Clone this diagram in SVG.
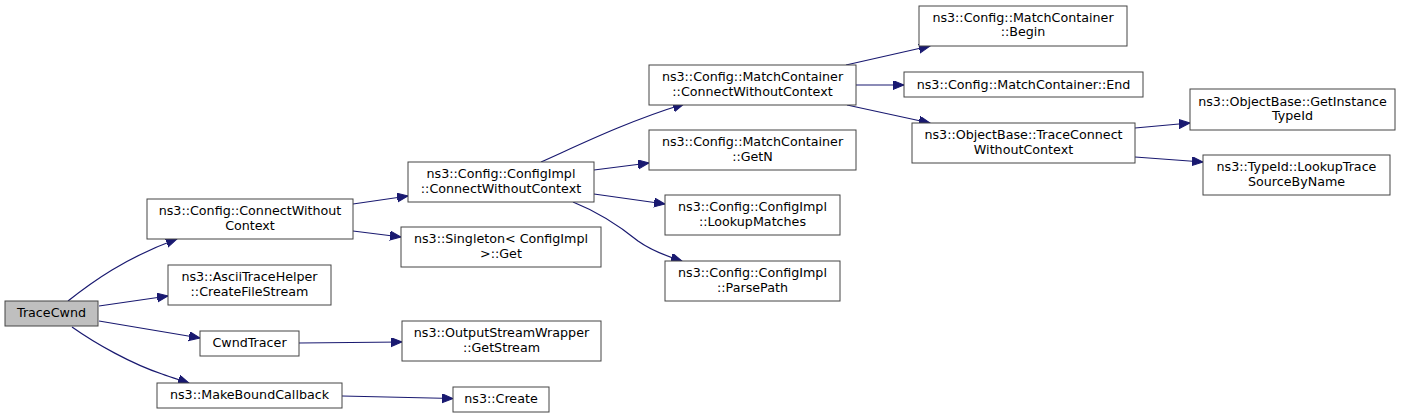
<svg xmlns="http://www.w3.org/2000/svg" width="1409" height="418" viewBox="0 0 1409 418">
<style>
.n rect{fill:#ffffff;stroke:#444444;stroke-width:1}
.n.root rect{fill:#bfbfbf}
.n text{font-family:"DejaVu Sans",sans-serif;font-size:12.7px;fill:#000000;text-anchor:middle}
.e path{fill:none;stroke:#191970;stroke-width:1.2}
</style>
<defs>
<marker id="ah" markerUnits="userSpaceOnUse" markerWidth="12" markerHeight="10" refX="11" refY="4.5" orient="auto">
<path d="M0,0 L11,4.5 L0,9 z" fill="#191970" stroke="#191970" stroke-width="1"/>
</marker>
</defs>
<rect width="1409" height="418" fill="#ffffff"/>
<g id="edges" class="e">
<path marker-end="url(#ah)" d="M68,301 C92,282 125,258 177,239"/>
<path marker-end="url(#ah)" d="M99,306 L168,296"/>
<path marker-end="url(#ah)" d="M99,321 L200,338"/>
<path marker-end="url(#ah)" d="M72,327 C96,344 132,364 162,374 C170,377 180,380 189,383"/>
<path marker-end="url(#ah)" d="M299,343 L402,342"/>
<path marker-end="url(#ah)" d="M342,396 L453,398.5"/>
<path marker-end="url(#ah)" d="M353,204 L408,196"/>
<path marker-end="url(#ah)" d="M353,231 L401,237"/>
<path marker-end="url(#ah)" d="M541,162 C575,147 625,122 684,104"/>
<path marker-end="url(#ah)" d="M594,170 L649,163"/>
<path marker-end="url(#ah)" d="M594,194 L665,204"/>
<path marker-end="url(#ah)" d="M573,202 C598,212 622,228 638,241 C652,251 666,256 682,261"/>
<path marker-end="url(#ah)" d="M846,65 L930,46"/>
<path marker-end="url(#ah)" d="M856,85 L904,85"/>
<path marker-end="url(#ah)" d="M847,105 L930,123"/>
<path marker-end="url(#ah)" d="M1135,128 L1190,123"/>
<path marker-end="url(#ah)" d="M1135,157 L1203,162"/>
</g>
<g id="TraceCwnd" class="n root"><rect x="5" y="301" width="93" height="25"/><text x="51.5" y="317">TraceCwnd</text></g>
<g id="ConfigConnectWithoutContext" class="n"><rect x="147" y="199" width="206" height="40"/><text x="250" y="215">ns3::Config::ConnectWithout</text><text x="250" y="229.5">Context</text></g>
<g id="AsciiTraceHelper" class="n"><rect x="168" y="265" width="163" height="40"/><text x="249.5" y="281">ns3::AsciiTraceHelper</text><text x="249.5" y="295.5">::CreateFileStream</text></g>
<g id="CwndTracer" class="n"><rect x="200" y="331" width="99" height="25"/><text x="249.5" y="347">CwndTracer</text></g>
<g id="MakeBoundCallback" class="n"><rect x="157" y="383" width="185" height="25"/><text x="249.5" y="399">ns3::MakeBoundCallback</text></g>
<g id="ConfigImplConnect" class="n"><rect x="408" y="162" width="186" height="40"/><text x="501" y="178">ns3::Config::ConfigImpl</text><text x="501" y="192.5">::ConnectWithoutContext</text></g>
<g id="SingletonGet" class="n"><rect x="401" y="227" width="200" height="40"/><text x="501" y="243">ns3::Singleton&lt; ConfigImpl</text><text x="501" y="257.5">&gt;::Get</text></g>
<g id="OutputStreamWrapper" class="n"><rect x="402" y="321" width="199" height="40"/><text x="501.5" y="337">ns3::OutputStreamWrapper</text><text x="501.5" y="351.5">::GetStream</text></g>
<g id="Create" class="n"><rect x="453" y="387" width="96" height="25"/><text x="501" y="403">ns3::Create</text></g>
<g id="MatchContainerConnect" class="n"><rect x="649" y="65" width="207" height="40"/><text x="752.5" y="81">ns3::Config::MatchContainer</text><text x="752.5" y="95.5">::ConnectWithoutContext</text></g>
<g id="MatchContainerGetN" class="n"><rect x="649" y="130" width="207" height="40"/><text x="752.5" y="146">ns3::Config::MatchContainer</text><text x="752.5" y="160.5">::GetN</text></g>
<g id="LookupMatches" class="n"><rect x="665" y="195" width="175" height="40"/><text x="752.5" y="211">ns3::Config::ConfigImpl</text><text x="752.5" y="225.5">::LookupMatches</text></g>
<g id="ParsePath" class="n"><rect x="665" y="261" width="175" height="40"/><text x="752.5" y="277">ns3::Config::ConfigImpl</text><text x="752.5" y="291.5">::ParsePath</text></g>
<g id="Begin" class="n"><rect x="919" y="6" width="208" height="40"/><text x="1023" y="21.5">ns3::Config::MatchContainer</text><text x="1023" y="36">::Begin</text></g>
<g id="End" class="n"><rect x="904" y="72" width="239" height="25"/><text x="1023.5" y="88.5">ns3::Config::MatchContainer::End</text></g>
<g id="TraceConnect" class="n"><rect x="912" y="123" width="223" height="40"/><text x="1023.5" y="139">ns3::ObjectBase::TraceConnect</text><text x="1023.5" y="153.5">WithoutContext</text></g>
<g id="GetInstanceTypeId" class="n"><rect x="1190" y="89" width="205" height="41"/><text x="1292.5" y="105.5">ns3::ObjectBase::GetInstance</text><text x="1292.5" y="120">TypeId</text></g>
<g id="LookupTrace" class="n"><rect x="1203" y="155" width="187" height="40"/><text x="1296.5" y="171">ns3::TypeId::LookupTrace</text><text x="1296.5" y="185.5">SourceByName</text></g>
</svg>
